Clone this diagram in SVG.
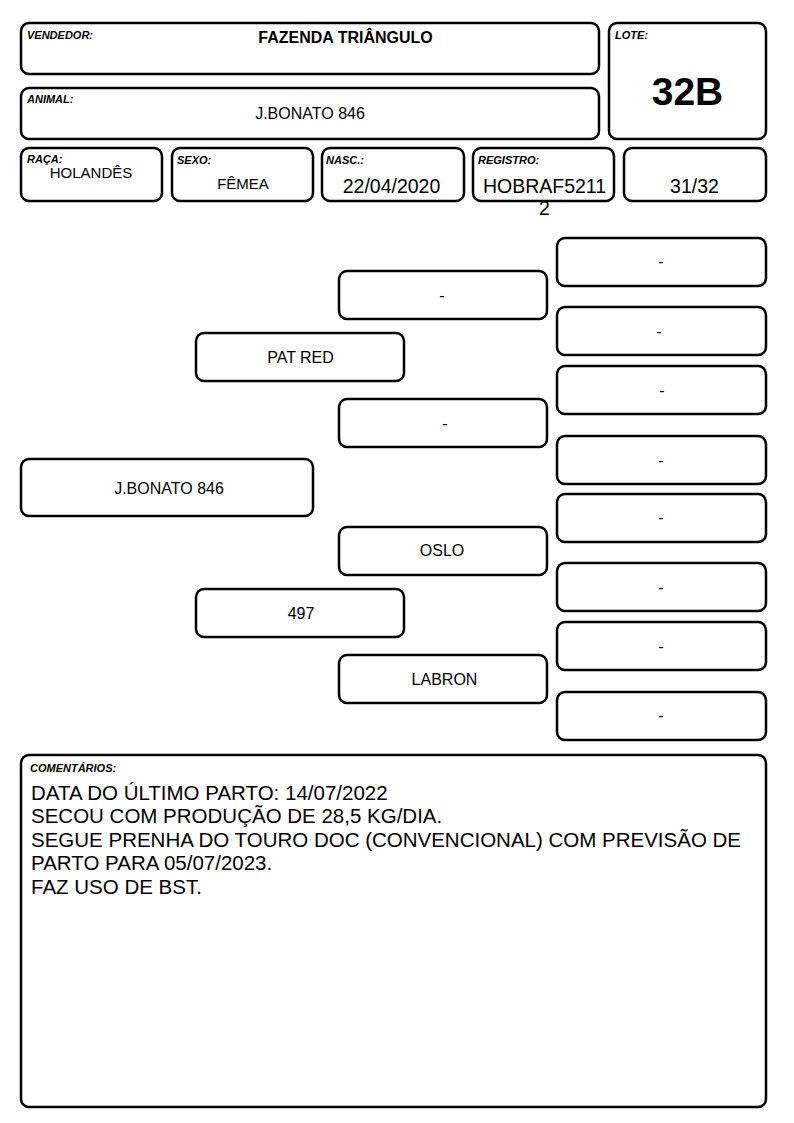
<svg xmlns="http://www.w3.org/2000/svg" width="794" height="1123" viewBox="0 0 794 1123">
<style>
.b{fill:#fff;stroke:#000;stroke-width:2.5}
.lb{font-family:"Liberation Sans",Arial,sans-serif;font-size:11px;font-weight:bold;font-style:italic;fill:#000}
.t{font-family:"Liberation Sans",Arial,sans-serif;font-size:15px;fill:#000;text-anchor:middle}
.p{font-family:"Liberation Sans",Arial,sans-serif;font-size:16px;fill:#000;text-anchor:middle}
.v{font-family:"Liberation Sans",Arial,sans-serif;font-size:19.5px;fill:#000;text-anchor:middle}
.c{font-family:"Liberation Sans",Arial,sans-serif;font-size:20.5px;fill:#000}
</style>
<rect width="794" height="1123" fill="#fff"/>
<g id="vendedor"><rect class="b" x="21" y="23" width="578" height="51" rx="8"/><text class="lb" x="27" y="39">VENDEDOR:</text><text class="p" x="345.5" y="43" font-weight="bold">FAZENDA TRIÂNGULO</text></g>
<g id="lote"><rect class="b" x="609" y="23" width="157" height="116" rx="8"/><text class="lb" x="615" y="39">LOTE:</text><text x="687.5" y="105" font-family="Liberation Sans,Arial,sans-serif" font-size="39" font-weight="bold" text-anchor="middle">32B</text></g>
<g id="animal"><rect class="b" x="21" y="88" width="578" height="51" rx="8"/><text class="lb" x="27" y="103">ANIMAL:</text><text class="p" x="310" y="119">J.BONATO 846</text></g>
<g id="raca"><rect class="b" x="21" y="148" width="141" height="53" rx="8"/><text class="lb" x="27" y="163">RAÇA:</text><text class="t" x="91" y="178">HOLANDÊS</text></g>
<g id="sexo"><rect class="b" x="172" y="148" width="141" height="53" rx="8"/><text class="lb" x="177" y="164">SEXO:</text><text class="t" x="243" y="189">FÊMEA</text></g>
<g id="nasc"><rect class="b" x="322" y="148" width="142" height="53" rx="8"/><text class="lb" x="326" y="164">NASC.:</text><text class="v" x="391.5" y="193">22/04/2020</text></g>
<g id="registro"><rect class="b" x="473" y="148" width="141" height="53" rx="8"/><text class="lb" x="478" y="164">REGISTRO:</text><text class="v" x="544.5" y="193">HOBRAF5211</text><text class="v" x="544.5" y="215">2</text></g>
<g id="grau"><rect class="b" x="624" y="148" width="142" height="53" rx="8"/><text class="v" x="694.5" y="193">31/32</text></g>
<g id="p0"><rect class="b" x="21" y="459" width="292" height="57" rx="8"/><text class="p" x="169" y="494">J.BONATO 846</text></g>
<g id="p1"><rect class="b" x="196" y="333" width="208" height="48" rx="8"/><text class="p" x="300.5" y="363">PAT RED</text></g>
<g id="p2"><rect class="b" x="196" y="589" width="208" height="48" rx="8"/><text class="p" x="301" y="619">497</text></g>
<g id="p3"><rect class="b" x="339" y="271" width="208" height="48" rx="8"/><text class="p" x="442" y="301">-</text></g>
<g id="p4"><rect class="b" x="339" y="399" width="208" height="48" rx="8"/><text class="p" x="445" y="429">-</text></g>
<g id="p5"><rect class="b" x="339" y="527" width="208" height="48" rx="8"/><text class="p" x="442" y="556">OSLO</text></g>
<g id="p6"><rect class="b" x="339" y="655" width="208" height="48" rx="8"/><text class="p" x="444.5" y="685">LABRON</text></g>
<g id="p7"><rect class="b" x="557" y="238" width="209" height="48" rx="8"/><text class="p" x="661" y="267">-</text></g>
<g id="p8"><rect class="b" x="557" y="307" width="209" height="48" rx="8"/><text class="p" x="659" y="337">-</text></g>
<g id="p9"><rect class="b" x="557" y="366" width="209" height="48" rx="8"/><text class="p" x="662" y="396">-</text></g>
<g id="p10"><rect class="b" x="557" y="436" width="209" height="48" rx="8"/><text class="p" x="661" y="466">-</text></g>
<g id="p11"><rect class="b" x="557" y="494" width="209" height="48" rx="8"/><text class="p" x="661" y="523">-</text></g>
<g id="p12"><rect class="b" x="557" y="563" width="209" height="48" rx="8"/><text class="p" x="661" y="593">-</text></g>
<g id="p13"><rect class="b" x="557" y="622" width="209" height="48" rx="8"/><text class="p" x="661" y="652">-</text></g>
<g id="p14"><rect class="b" x="557" y="692" width="209" height="48" rx="8"/><text class="p" x="661" y="721">-</text></g>
<g id="connectors"></g>
<g id="comentarios"><rect class="b" x="21" y="755" width="745" height="352" rx="8"/><text class="lb" x="30" y="772">COMENTÁRIOS:</text>
<text class="c" x="31" y="800">DATA DO ÚLTIMO PARTO: 14/07/2022</text>
<text class="c" x="31" y="823">SECOU COM PRODUÇÃO DE 28,5 KG/DIA.</text>
<text class="c" x="31" y="847">SEGUE PRENHA DO TOURO DOC (CONVENCIONAL) COM PREVISÃO DE</text>
<text class="c" x="31" y="870">PARTO PARA 05/07/2023.</text>
<text class="c" x="31" y="894">FAZ USO DE BST.</text></g>
</svg>
